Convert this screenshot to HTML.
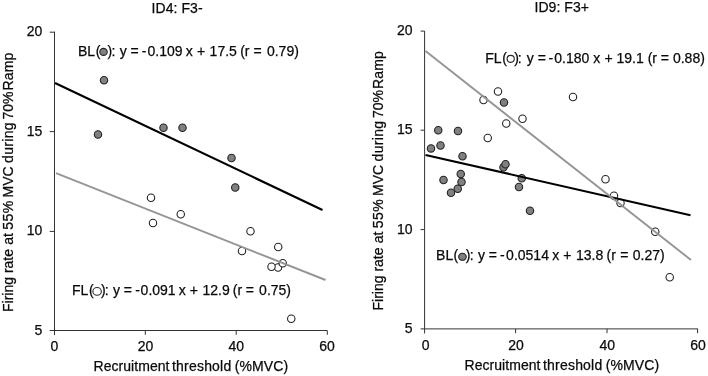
<!DOCTYPE html>
<html><head><meta charset="utf-8"><title>Firing rate vs recruitment threshold</title>
<style>
html,body{margin:0;padding:0;background:#fff;}
svg{display:block}
text{font-family:"Liberation Sans",Arial,sans-serif;fill:#0a0a0a;stroke:#0a0a0a;stroke-width:0.25px}
.t{font-size:14px}
.tk{font-size:14px}
.lg{font-size:14px}
.ax{fill:none;stroke:#333;stroke-width:1}
.pt circle{stroke:#222;stroke-width:1.1}
</style></head><body>
<svg width="708" height="376" viewBox="0 0 708 376">
<rect width="708" height="376" fill="#fff"/>
<!-- left chart -->
<path d="M54.5 31.7V335.1M49.7 330.5H327.3M145.3 330.5v4.3M236.2 330.5v4.3M327.3 330.5v4.3M49.7 32.2H54.5M49.7 131.6H54.5M49.7 231.4H54.5" class="ax"/>
<g class="pt">
<circle cx="180.75" cy="214.25" r="3.7" fill="#fff"/>
<circle cx="151" cy="197.75" r="3.7" fill="#fff"/>
<circle cx="153" cy="223" r="3.7" fill="#fff"/>
<circle cx="250.5" cy="231.25" r="3.7" fill="#fff"/>
<circle cx="242" cy="251" r="3.7" fill="#fff"/>
<circle cx="278.25" cy="247" r="3.7" fill="#fff"/>
<circle cx="278" cy="267.5" r="3.7" fill="#fff"/>
<circle cx="282.75" cy="263.25" r="3.7" fill="#fff"/>
<circle cx="271.5" cy="266.75" r="3.7" fill="#fff"/>
<circle cx="291.25" cy="318.75" r="3.7" fill="#fff"/>
<circle cx="104" cy="80.25" r="3.7" fill="#808080"/>
<circle cx="98" cy="134.5" r="3.7" fill="#808080"/>
<circle cx="163.5" cy="127.75" r="3.7" fill="#808080"/>
<circle cx="182.5" cy="127.75" r="3.7" fill="#808080"/>
<circle cx="231.5" cy="158" r="3.7" fill="#808080"/>
<circle cx="235.25" cy="187.5" r="3.7" fill="#808080"/>
</g>
<line x1="55" y1="83" x2="322.5" y2="210" stroke="#000" stroke-width="2.1"/>
<line x1="56" y1="173.2" x2="325.5" y2="280" stroke="#959595" stroke-width="1.9"/>
<text class="t" x="151.6" y="12.5" textLength="51">ID4: F3-</text>
<g class="tk" text-anchor="end">
<text x="42.3" y="36.3">20</text><text x="42.3" y="136">15</text><text x="42.3" y="235.3">10</text><text x="42.3" y="334.8">5</text>
</g>
<g class="tk" text-anchor="middle">
<text x="54.5" y="351.4">0</text><text x="145.5" y="351.4">20</text><text x="236.2" y="351.4">40</text><text x="327" y="351.4">60</text>
</g>
<text class="t" x="93.5" y="370.6"><tspan style="letter-spacing:0.05px">Recruitment</tspan><tspan dx="-1.6" style="letter-spacing:0.2px"> threshold</tspan><tspan dx="-0.6" style="letter-spacing:0.08px"> (%MVC)</tspan></text>
<text class="t" transform="translate(12.5 312) rotate(-90)">Firing rate<tspan dx="0.3"> at</tspan><tspan dx="-1.1" style="letter-spacing:0.5px"> 55%</tspan><tspan dx="-1.0"> MVC</tspan><tspan dx="-0.9" style="letter-spacing:0.33px"> during</tspan><tspan dx="-1.4"> 70%</tspan><tspan dx="1.1" style="letter-spacing:0.15px">Ramp</tspan></text>
<text class="lg" x="78" y="55.5">BL<tspan dx="0.6">(</tspan></text>
<ellipse cx="103.5" cy="51.9" rx="3.7" ry="3.5" fill="#808080" stroke="#222" stroke-width="1.1"/>
<text class="lg" x="107.5" y="55.5">)<tspan dx="-0.7">:</tspan><tspan dx="0.4"> y = </tspan><tspan dx="-0.8">-</tspan><tspan dx="1">0.109</tspan><tspan dx="-0.6"> x</tspan><tspan dx="0.4"> +</tspan><tspan dx="0.4"> 17.5</tspan><tspan dx="-0.6"> (r</tspan><tspan dx="0.1"> =</tspan><tspan dx="1.4"> 0.79)</tspan></text>
<text class="lg" x="72" y="295">FL<tspan dx="0.6">(</tspan></text>
<ellipse cx="97.1" cy="291.4" rx="4.2" ry="3.85" fill="#fff" stroke="#2a2a2a" stroke-width="1.1"/>
<text class="lg" x="100.9" y="295">)<tspan dx="-0.9">:</tspan><tspan dx="0.5"> y = </tspan><tspan dx="-0.6">-</tspan><tspan dx="0.6">0.091</tspan><tspan dx="-0.75"> x</tspan> +<tspan dx="0.75"> 12.9</tspan><tspan dx="-0.8"> (r</tspan><tspan dx="-0.2"> =</tspan><tspan dx="1.2"> 0.75)</tspan></text>

<!-- right chart -->
<path d="M424.6 31V333.5M420.6 328.9H698M515.6 328.9v4.3M607 328.9v4.3M697.6 328.9v4.3M420.6 31.1H424.6M420.6 130.2H424.6M420.6 229.6H424.6" class="ax"/>
<g class="pt">
<circle cx="498" cy="91.5" r="3.7" fill="#fff"/>
<circle cx="483.5" cy="100" r="3.7" fill="#fff"/>
<circle cx="573" cy="97" r="3.7" fill="#fff"/>
<circle cx="522.5" cy="118.75" r="3.7" fill="#fff"/>
<circle cx="506.25" cy="123.5" r="3.7" fill="#fff"/>
<circle cx="487.75" cy="138" r="3.7" fill="#fff"/>
<circle cx="605.5" cy="179.25" r="3.7" fill="#fff"/>
<circle cx="614" cy="195.75" r="3.7" fill="#fff"/>
<circle cx="620.5" cy="203" r="3.7" fill="#fff"/>
<circle cx="655.25" cy="231.75" r="3.7" fill="#fff"/>
<circle cx="669.75" cy="277.25" r="3.7" fill="#fff"/>
<circle cx="504" cy="102.5" r="3.7" fill="#808080"/>
<circle cx="438.25" cy="130.25" r="3.7" fill="#808080"/>
<circle cx="458" cy="131" r="3.7" fill="#808080"/>
<circle cx="431" cy="148.4" r="3.7" fill="#808080"/>
<circle cx="440.5" cy="145.5" r="3.7" fill="#808080"/>
<circle cx="462.5" cy="156.25" r="3.7" fill="#808080"/>
<circle cx="503.5" cy="167.25" r="3.7" fill="#808080"/>
<circle cx="505.5" cy="164.25" r="3.7" fill="#808080"/>
<circle cx="460.75" cy="174" r="3.7" fill="#808080"/>
<circle cx="443.5" cy="180" r="3.7" fill="#808080"/>
<circle cx="461.5" cy="182" r="3.7" fill="#808080"/>
<circle cx="457.75" cy="188.75" r="3.7" fill="#808080"/>
<circle cx="451" cy="192.75" r="3.7" fill="#808080"/>
<circle cx="521.75" cy="178.25" r="3.7" fill="#808080"/>
<circle cx="519" cy="187" r="3.7" fill="#808080"/>
<circle cx="530" cy="210.75" r="3.7" fill="#808080"/>
</g>
<line x1="425.5" y1="154.9" x2="690.5" y2="215.3" stroke="#000" stroke-width="2.1"/>
<line x1="425.5" y1="51" x2="691" y2="260" stroke="#959595" stroke-width="1.9"/>
<text class="t" x="534.5" y="12.2" textLength="54.5">ID9: F3+</text>
<g class="tk" text-anchor="end">
<text x="412.5" y="35">20</text><text x="412.5" y="134.4">15</text><text x="412.5" y="233.8">10</text><text x="412.5" y="333.2">5</text>
</g>
<g class="tk" text-anchor="middle">
<text x="425.6" y="350.2">0</text><text x="516" y="350.1">20</text><text x="607.25" y="350.1">40</text><text x="698" y="350.1">60</text>
</g>
<text class="t" x="464.5" y="370.4"><tspan style="letter-spacing:0.05px">Recruitment</tspan><tspan dx="-1.6" style="letter-spacing:0.2px"> threshold</tspan><tspan dx="-0.6" style="letter-spacing:0.08px"> (%MVC)</tspan></text>
<text class="t" transform="translate(382.5 310.5) rotate(-90)">Firing rate<tspan dx="0.3"> at</tspan><tspan dx="-1.1" style="letter-spacing:0.5px"> 55%</tspan><tspan dx="-1.0"> MVC</tspan><tspan dx="-0.9" style="letter-spacing:0.33px"> during</tspan><tspan dx="-1.4"> 70%</tspan><tspan dx="1.1" style="letter-spacing:0.15px">Ramp</tspan></text>
<text class="lg" x="485.2" y="62.8">FL<tspan dx="0.6">(</tspan></text>
<ellipse cx="510.7" cy="58.85" rx="3.6" ry="3.5" fill="#fff" stroke="#2a2a2a" stroke-width="1.1"/>
<text class="lg" x="514.2" y="62.8">)<tspan dx="-1.2">:</tspan><tspan dx="1.3"> y = </tspan><tspan dx="-1.3">-</tspan><tspan dx="1.2">0.180</tspan> x<tspan dx="0.3"> +</tspan> 19.1 (r = 0.88)</text>
<text class="lg" x="436.1" y="260">BL<tspan dx="0.3">(</tspan></text>
<ellipse cx="462.45" cy="256.8" rx="3.8" ry="3.5" fill="#808080" stroke="#222" stroke-width="1.1"/>
<text class="lg" x="465.8" y="260">)<tspan dx="-0.7">:</tspan><tspan dx="0.4"> y = </tspan><tspan dx="-1">-</tspan><tspan dx="1.5">0.0514</tspan><tspan dx="-0.5"> x</tspan> +<tspan dx="0.7"> 13.8</tspan><tspan dx="-0.5"> (r</tspan><tspan dx="0.5"> =</tspan><tspan dx="0.3"> 0.27)</tspan></text>
</svg>
</body></html>
